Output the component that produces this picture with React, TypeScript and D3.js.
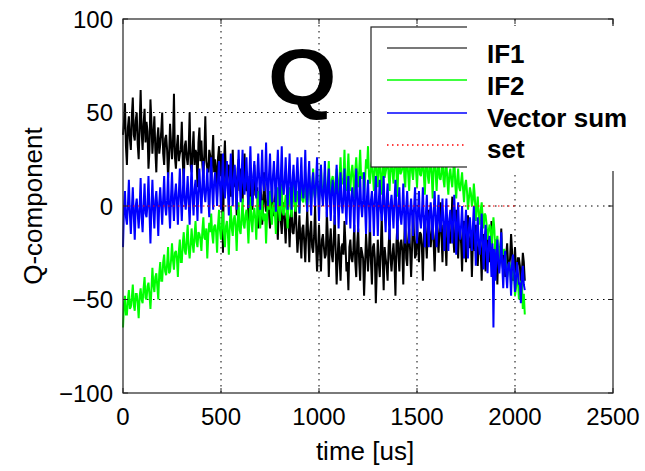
import React from "react";
import * as d3 from "d3";

// samples every 5 us: "even" samples at 0,10,20..., "odd" samples at 5,15,25...
const SAMPLE_US = 5;
const xTicks = [0, 500, 1000, 1500, 2000, 2500];
const yTicks = [-100, -50, 0, 50, 100];
const legendLabels = ["IF1", "IF2", "Vector sum", "set"];
const setLine = [{ t: 0, v: 0 }, { t: 2010, v: 0 }];

const if1Even = [
  38, 55, 22, 48, 30, 58, 35, 50, 25, 62, 30, 52, 45, 20, 57, 28, 48, 18, 42, 33,
  50, 22, 38, 15, 44, 25, 60, 20, 38, 28, 45, 12, 35, 22, 50, 18, 40, 30, 10, 42,
  35, 15, 48, 20, 30, 10, 38, 25, 5, 32, 28, -25, 35, 12, 22, 5, 30, 18, -5, 25,
  20, 2, 28, 8, -8, 15, -2, 22, 5, -12, 10, -10, 18, -3, 8, -12, 12, -5, 8, -18,
  5, -15, 2, -20, -2, -22, 0, -15, 3, -25, -5, -28, -10, -30, -2, -30, -8, -25, 0, -35,
  -10, -35, -15, -28, -3, -38, -12, -30, -5, -42, -15, -40, -20, -8, -35, -45, -18, -30, -10, -38,
  -12, -40, -25, -48, -15, -35, -8, -42, -20, -52, -18, -38, -5, -45, -28, -40, -12, -35, -20, -48,
  -10, -35, -18, -42, -5, -32, -12, -38, -2, -28, -8, -30, -15, -40, -5, -28, -2, -22, -10, -35,
  -5, -25, 2, -30, -12, -32, -8, -20, 5, -25, -2, -28, -12, -35, -8, -30, -5, -22, -38, -12,
  -10, -32, -18, -40, -15, -35, -15, -30, -8, -38, -18, -42, -22, -12, -35, -38, -20, -32, -15, -40,
  -22, -38, -28, -42, -25, -40,
];
const if1Odd = [
  45, 32, 42, 36, 48, 38, 46, 33, 44, 40, 44, 34, 40, 30, 45, 38, 30, 36, 28, 40,
  28, 36, 30, 26, 34, 34, 26, 32, 24, 30, 24, 32, 26, 30, 22, 30, 22, 28, 34, 24,
  22, 28, 24, 18, 27, 25, 18, 20, 26, 16, 14, 22, 16, 20, 12, 18, 10, 14, 20, 8,
  8, 15, 10, 16, 4, 4, 12, 6, 10, 0, 6, -2, 4, 0, -4, 2, -5, 4, -8, 1,
  -8, -2, -10, -4, -8, -6, -14, -8, -12, -16, -18, -12, -20, -14, -16, -14, -22, -16, -20, -24,
  -24, -18, -22, -26, -16, -20, -26, -18, -24, -28, -28, -22, -26, -20, -30, -22, -28, -24, -30, -20,
  -30, -22, -28, -32, -24, -24, -30, -22, -28, -34, -30, -24, -28, -22, -32, -22, -28, -26, -30, -20,
  -26, -20, -24, -18, -28, -18, -24, -22, -16, -26, -20, -14, -22, -16, -18, -12, -18, -14, -20, -16,
  -18, -12, -16, -10, -20, -10, -18, -12, -16, -14, -18, -12, -20, -14, -16, -14, -22, -16, -20, -24,
  -26, -20, -24, -18, -28, -22, -28, -24, -30, -26, -28, -22, -26, -30, -24, -26, -32, -28, -24, -34,
  -34, -28, -32, -36, -30,
];

const if2Even = [
  -65, -48, -58, -45, -54, -42, -56, -47, -60, -44, -52, -38, -50, -41, -55, -33, -46, -36, -50, -30,
  -40, -26, -37, -22, -35, -20, -34, -24, -38, -18, -30, -14, -26, -10, -28, -12, -25, -8, -22, -15,
  -24, -6, -18, -28, -9, -4, -20, -10, -25, -2, -18, -3, -22, -8, -26, 0, -16, -5, -24, 2,
  -15, 4, -12, -2, -20, 5, -14, -1, -18, 8, -12, 3, -8, -20, 6, 8, -10, 2, -15, 10,
  -8, 12, -5, 6, -12, 10, -6, 14, -3, 8, -4, 15, 2, 18, -2, 16, 0, 20, 4, 12,
  2, 22, 8, 18, 0, 24, 5, 16, 2, 20, 6, 26, 12, 30, 8, 28, 8, 22, 4, 26,
  10, 30, 15, 5, 25, 32, 12, 24, 8, 28, 10, 26, 6, 34, 18, 28, 8, 24, 12, 30,
  5, 32, 18, 36, 10, 26, 8, 30, 14, 24, 10, 34, 16, 28, 6, 30, 12, 24, 4, 28,
  8, 26, 14, 30, 10, 24, 6, 20, 10, 28, 4, 20, 8, 18, 2, 14, -2, 10, 0, 12,
  -8, 5, -10, 2, -12, -5, -18, -10, -22, -6, -28, -16, -30, -18, -26, -26, -38, -30, -42, -35,
  -48, -36, -50, -40, -55, -58,
];
const if2Odd = [
  -52, -58, -50, -55, -49, -53, -47, -52, -48, -50, -44, -49, -43, -47, -45, -42, -38, -43, -36, -40,
  -30, -35, -31, -36, -29, -29, -25, -28, -24, -30, -20, -24, -18, -23, -21, -20, -16, -19, -14, -18,
  -13, -17, -12, -16, -14, -15, -11, -14, -10, -13, -10, -14, -11, -15, -9, -12, -7, -11, -8, -13,
  -6, -10, -5, -9, -7, -8, -4, -7, -2, -6, -3, -7, -4, -6, -2, -5, 0, -4, 1, -2,
  2, -3, 1, -2, 3, 0, 4, 1, 5, 2, 7, 3, 6, 2, 8, 6, 10, 7, 11, 9,
  12, 8, 11, 7, 13, 10, 14, 11, 15, 12, 16, 12, 15, 11, 17, 14, 18, 15, 19, 16,
  19, 15, 18, 14, 20, 16, 20, 17, 21, 18, 20, 16, 19, 15, 21, 17, 21, 18, 22, 19,
  21, 17, 20, 16, 22, 17, 21, 18, 22, 19, 21, 17, 20, 16, 22, 16, 20, 17, 21, 18,
  19, 15, 18, 14, 20, 13, 17, 14, 18, 12, 14, 10, 13, 9, 11, 8, 4, 7, 3, 5,
  -1, -5, -2, -6, -4, -10, -14, -11, -15, -13, -20, -24, -21, -25, -23, -31, -35, -32, -37, -34,
  -44, -40, -45, -41, -47,
];

const vectorSumEven = [
  -22, 8, -10, 14, -15, 10, -18, 4, -12, 15, -14, 12, -6, 16, -20, 14, -12, 8, -16, 10,
  -10, 16, -5, 18, -12, 18, -8, 12, -10, 20, -8, 20, -2, 16, -10, 22, -5, 14, -8, 20,
  -4, 24, 2, 20, -6, 26, -2, 18, 0, 24, -2, 28, 4, 24, -5, 28, 0, 22, -2, 30,
  2, 30, 6, 26, -1, 32, 0, 24, 4, 28, -2, 30, 8, 34, 0, 28, 2, 24, -3, 30,
  0, 32, 6, 26, -2, 28, -2, 22, 2, 26, -4, 26, 4, 30, -3, 24, -5, 18, 0, 26,
  -8, 22, 0, 24, -6, 20, -8, 14, -10, 22, -12, 18, -4, 20, -10, 16, -12, 10, -14, 20,
  -14, 16, -6, 18, -15, 14, -14, 8, -16, 16, -16, 14, -8, 16, -14, 12, -18, 6, -12, 14,
  -18, 10, -10, 12, -20, 8, -20, 4, -16, 10, -20, 8, -12, 10, -22, 6, -22, 2, -18, 8,
  -22, 6, -14, 4, -24, 4, -24, -2, -20, 6, -26, 2, -18, 0, -28, -2, -28, -6, -24, 0,
  -32, -6, -26, -4, -34, -10, -36, -16, -38, -65, -40, -18, -36, -14, -44, -24, -44, -30, -48, -26,
  -46, -30, -42, -52, -32, -45,
];
const vectorSumOdd = [
  -1, -6, 0, -4, -2, -5, 0, -4, -1, -6, 0, -4, 1, -3, -1, -2, 3, -1, 2, 0,
  4, 0, 3, -1, 5, 2, 6, 3, 7, 4, 7, 3, 6, 2, 8, 5, 9, 6, 10, 7,
  11, 7, 10, 6, 12, 9, 13, 10, 14, 11, 14, 10, 13, 9, 15, 11, 15, 12, 16, 13,
  16, 12, 15, 11, 17, 12, 16, 13, 17, 14, 16, 12, 15, 11, 17, 12, 16, 13, 17, 14,
  15, 11, 14, 10, 16, 10, 14, 11, 15, 12, 13, 9, 12, 8, 14, 8, 12, 9, 13, 10,
  10, 6, 9, 5, 11, 4, 8, 5, 9, 6, 6, 2, 5, 1, 7, 1, 5, 2, 6, 3,
  4, 0, 3, -1, 5, -1, 3, 0, 4, 1, 2, -2, 1, -3, 3, -3, 1, -2, 2, -1,
  -1, -5, -2, -6, 0, -6, -2, -5, -1, -4, -3, -7, -4, -8, -5, -8, -4, -7, -3, -6,
  -5, -9, -6, -10, -7, -11, -7, -10, -6, -9, -9, -13, -10, -14, -11, -16, -12, -15, -11, -14,
  -16, -20, -17, -21, -18, -25, -21, -24, -20, -23, -27, -31, -28, -32, -29, -36, -32, -35, -31, -34,
  -40, -36, -41, -37, -42,
];

function interleave(even: number[], odd: number[]) {
  const out: number[] = [];
  even.forEach((v, i) => {
    out.push(v);
    if (i < odd.length) out.push(odd[i]);
  });
  return out;
}

const series = [
  { name: "IF1", values: interleave(if1Even, if1Odd), color: "#000000" },
  { name: "IF2", values: interleave(if2Even, if2Odd), color: "#00ff00" },
  { name: "Vector sum", values: interleave(vectorSumEven, vectorSumOdd), color: "#0000ff" },
];

const L = 123, R = 613, T = 19, B = 393;
const FONT = "'Liberation Sans', Arial, sans-serif";

export default function App() {
  const x = d3.scaleLinear().domain([0, 2500]).range([L, R]);
  const y = d3.scaleLinear().domain([-100, 100]).range([B, T]);
  const line = d3
    .line<number>()
    .x((_, i) => x(i * SAMPLE_US))
    .y((v) => y(v));
  const setPath = d3
    .line<{ t: number; v: number }>()
    .x((d) => x(d.t))
    .y((d) => y(d.v))(setLine);

  const legendColors = ["#000000", "#00ff00", "#0000ff", "#ff0000"];
  const legendY = [48, 80, 113, 145];
  const textY = [63, 95, 127, 158];

  return (
    <svg
      width={645}
      height={471}
      style={{ position: "absolute", left: 0, top: 0, background: "#fff" }}
      fontFamily={FONT}
    >
      <rect x={0} y={0} width={645} height={471} fill="#fff" />
      {xTicks.slice(1, -1).map((t) => (
        <line key={"gx" + t} x1={x(t)} x2={x(t)} y1={T} y2={B} stroke="#000" strokeWidth={1} strokeDasharray="1.5,4.5" />
      ))}
      {yTicks.slice(1, -1).map((t) => (
        <line key={"gy" + t} x1={L} x2={R} y1={y(t)} y2={y(t)} stroke="#000" strokeWidth={1} strokeDasharray="1.5,4.5" />
      ))}
      {series.map((s) => (
        <path key={s.name} d={line(s.values) || ""} fill="none" stroke={s.color} strokeWidth={2} strokeLinejoin="miter" strokeMiterlimit={2} />
      ))}
      <path d={setPath || ""} fill="none" stroke="#ff0000" strokeWidth={1} strokeDasharray="1.5,3.5" />
      <rect x={L} y={T} width={R - L} height={B - T} fill="none" stroke="#222" strokeWidth={1.2} />
      {xTicks.map((t) => (
        <g key={"tx" + t}>
          <line x1={x(t)} x2={x(t)} y1={B} y2={B - 5} stroke="#222" />
          <line x1={x(t)} x2={x(t)} y1={T} y2={T + 5} stroke="#222" />
          <text x={x(t)} y={425} textAnchor="middle" fontSize={24} fill="#000">
            {t}
          </text>
        </g>
      ))}
      {yTicks.map((t) => (
        <g key={"ty" + t}>
          <line x1={L} x2={L + 5} y1={y(t)} y2={y(t)} stroke="#222" />
          <line x1={R} x2={R - 5} y1={y(t)} y2={y(t)} stroke="#222" />
          <text x={113} y={y(t) + 8.5} textAnchor="end" fontSize={24} fill="#000">
            {t < 0 ? "\u2212" + Math.abs(t) : t}
          </text>
        </g>
      ))}
      <text x={365} y={460} textAnchor="middle" fontSize={26} fill="#000">
        time [us]
      </text>
      <text transform={`translate(42,${(T + B) / 2}) rotate(-90)`} textAnchor="middle" fontSize={26} fill="#000">
        Q-component
      </text>
      <rect x={371} y={27} width={120} height={140} fill="#fff" stroke="#222" strokeWidth={1.2} />
      {legendLabels.map((lab, i) => (
        <line
          key={"ll" + lab}
          x1={387}
          x2={467}
          y1={legendY[i]}
          y2={legendY[i]}
          stroke={legendColors[i]}
          strokeWidth={1.5}
          strokeDasharray={i === 3 ? "1.5,3.5" : undefined}
          opacity={i === 0 ? 0.7 : 1}
        />
      ))}
      <rect x={467} y={26} width={178} height={145} fill="#fff" />
      {legendLabels.map((lab, i) => (
        <text key={"lt" + lab} x={487} y={textY[i]} fontSize={26} fontWeight="bold" fill="#000">
          {lab}
        </text>
      ))}
      <text x={268} y={104} fontSize={80} fontWeight="bold" fill="#000" transform="translate(268,104) scale(1.1,1) translate(-268,-104)">
        Q
      </text>
    </svg>
  );
}
